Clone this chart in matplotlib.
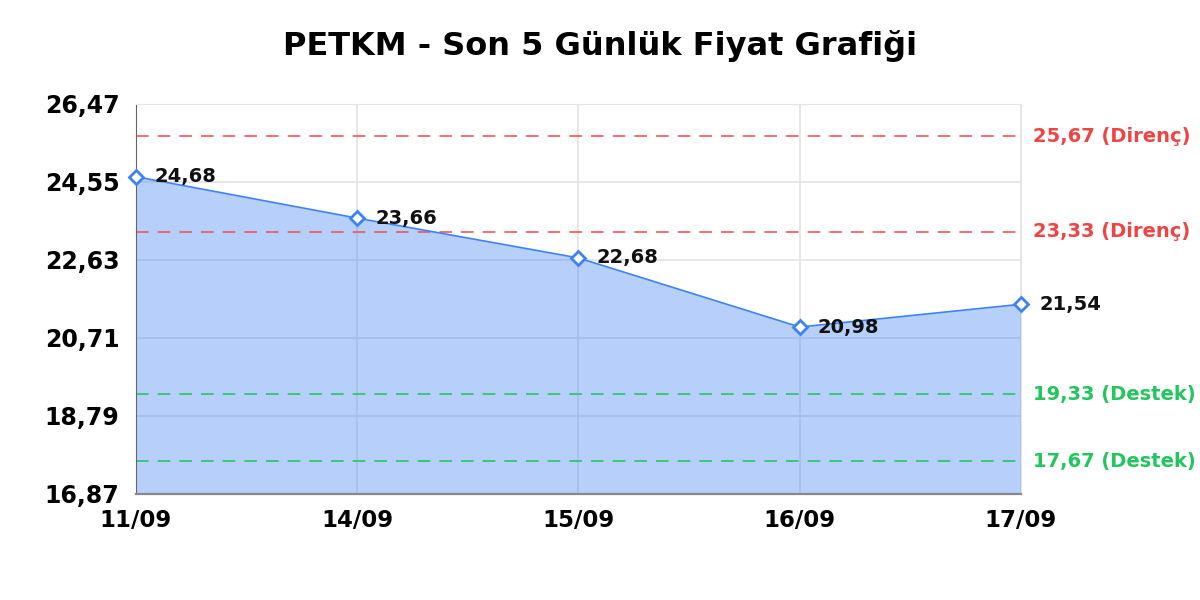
import matplotlib.pyplot as plt
import numpy as np

# data
dates = ['11/09', '14/09', '15/09', '16/09', '17/09']
prices = [24.68, 23.66, 22.68, 20.98, 21.54]
resistance = [25.67, 23.33]
support = [19.33, 17.67]
yticks = [16.87, 18.79, 20.71, 22.63, 24.55, 26.47]


def tr(v):
    return f'{v:.2f}'.replace('.', ',')


plt.rcParams['font.family'] = 'DejaVu Sans'

fig = plt.figure(figsize=(12, 6), dpi=100)
ax = fig.add_axes([0.1133, 0.1767, 0.7375, 0.65])

x = np.arange(len(dates))
ax.fill_between(x, prices, yticks[0], color='#3b82f6', alpha=0.37, lw=0, zorder=1)
ax.plot(x, prices, color='#3b82f6', lw=1.2, zorder=3)
ax.plot(x, prices, linestyle='none', marker='D', markersize=7.5,
        markerfacecolor='white', markeredgecolor='#3b82f6', markeredgewidth=2,
        zorder=4, clip_on=False)

for xi, p in zip(x, prices):
    ax.annotate(tr(p), (xi, p), xytext=(13, 0),
                textcoords='offset points', va='center', ha='left',
                fontsize=14, fontweight='bold', color='#111111', zorder=5)

for r in resistance:
    ax.axhline(r, color='#ef5454', lw=1.3, dashes=(7, 5), alpha=0.9, zorder=2)
    ax.text(1.0136, r, tr(r) + ' (Direnç)', transform=ax.get_yaxis_transform(),
            va='center', ha='left', fontsize=14, fontweight='bold', color='#ef4444')
for s in support:
    ax.axhline(s, color='#22c55e', lw=1.3, dashes=(7, 5), alpha=0.9, zorder=2)
    ax.text(1.0136, s, tr(s) + ' (Destek)', transform=ax.get_yaxis_transform(),
            va='center', ha='left', fontsize=14, fontweight='bold', color='#22c55e')

ax.set_xlim(0, len(dates) - 1)
ax.set_ylim(yticks[0], yticks[-1])
ax.set_xticks(x)
ax.set_xticklabels(dates, fontsize=16.5, fontweight='bold')
ax.set_yticks(yticks)
ax.set_yticklabels([tr(t) for t in yticks], fontsize=17, fontweight='bold')
ax.tick_params(axis='y', length=0, pad=12)
ax.tick_params(axis='x', length=0, pad=11)
ax.grid(True, color='#e3e3e3', lw=1.2, zorder=0)
ax.set_axisbelow(True)

for side in ['top', 'right']:
    ax.spines[side].set_color('#e6e6e6')
ax.spines['left'].set_color('#666666')
ax.spines['bottom'].set_color('#888888')
ax.spines['bottom'].set_linewidth(1.6)

fig.suptitle('PETKM - Son 5 Günlük Fiyat Grafiği', fontsize=23, fontweight='bold', y=0.95)

fig.savefig('out.png', dpi=100)
